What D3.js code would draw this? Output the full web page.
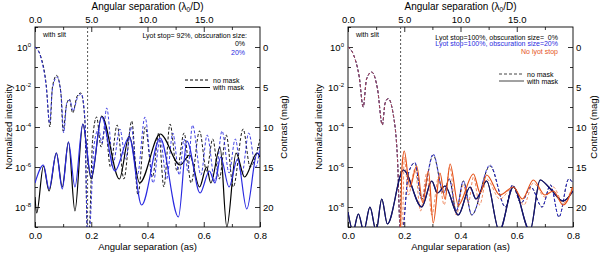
<!DOCTYPE html>
<html>
<head>
<meta charset="utf-8">
<script src="https://cdn.jsdelivr.net/npm/d3@7"></script>
<style>
body { margin: 0; background: #fff; }
svg { font-family: "Liberation Sans", Arial, sans-serif; }
</style>
</head>
<body>
<svg id="chart" width="600" height="254"></svg>
<script>
// ticks
const xTicksAs = [0.0, 0.2, 0.4, 0.6, 0.8]
const xMinorAs = [0.1, 0.3, 0.5, 0.7]
const xTicksLD = [0, 5, 10, 15]
const xMinorLD = [2.5, 7.5, 12.5, 17.5]
const yTicksExp = [0, -2, -4, -6, -8]
const yMinorExp = [1, -1, -3, -5, -7, -9]
const magTicks = [0, 5, 10, 15, 20]
const magMinor = [2.5, 7.5, 12.5, 17.5]
const slitEdge = 0.187

// series: [separation (as), log10 normalized intensity]
// left panel, Lyot stop 92%
const leftNoMask0 = [[0,0],[0.02,-0.45],[0.04,-1.9],[0.053,-4.0],[0.062,-2.0],[0.077,-1.42],[0.092,-2.3],[0.100,-4.2],[0.112,-2.9],[0.122,-2.6],[0.134,-3.3],[0.150,-2.45],[0.163,-2.3],[0.177,-3.6],[0.186,-9.2],
  [0.192,-9.2],[0.205,-4.6],[0.219,-3.5],[0.235,-5.0],[0.250,-4.0],[0.268,-6.0],[0.292,-3.9],[0.316,-6.6],[0.344,-3.7],[0.366,-7.4],[0.392,-4.0],[0.418,-6.5],[0.440,-4.3],[0.458,-7.0],[0.480,-3.85],[0.505,-6.2],[0.530,-4.3],[0.555,-6.8],[0.585,-4.2],[0.610,-6.2],[0.632,-4.6],[0.655,-6.6],[0.680,-4.4],[0.705,-7.0],[0.740,-4.1],[0.765,-6.0],[0.800,-4.6]]
const leftNoMask20 = [[0,0],[0.02,-0.5],[0.04,-2.0],[0.052,-3.8],[0.062,-2.1],[0.078,-1.5],[0.093,-2.4],[0.102,-4.3],[0.113,-2.8],[0.124,-2.65],[0.135,-3.2],[0.152,-2.5],[0.165,-2.35],[0.178,-3.7],[0.186,-9.2],
  [0.193,-9.2],[0.210,-4.9],[0.226,-4.1],[0.238,-4.8],[0.255,-3.05],[0.278,-5.8],[0.302,-4.1],[0.322,-5.6],[0.342,-4.0],[0.364,-6.4],[0.391,-3.5],[0.420,-6.8],[0.445,-4.6],[0.468,-6.6],[0.490,-4.3],[0.513,-6.4],[0.530,-4.6],[0.543,-6.2],[0.560,-3.9],[0.590,-6.4],[0.612,-4.4],[0.640,-6.7],[0.665,-4.2],[0.690,-6.3],[0.712,-4.6],[0.735,-6.4],[0.760,-4.3],[0.785,-6.0],[0.800,-5.0]]
const leftMask0 = [[0,-7.5],[0.006,-8.3],[0.030,-5.95],[0.050,-7.2],[0.076,-5.3],[0.097,-7.0],[0.119,-4.75],[0.142,-8.2],[0.170,-3.85],[0.200,-6.6],[0.237,-3.45],[0.300,-6.6],[0.335,-4.45],[0.372,-6.8],[0.445,-4.35],[0.516,-5.9],[0.550,-5.4],[0.585,-7.0],[0.610,-6.0],[0.625,-6.8],[0.658,-5.0],[0.682,-9.0],[0.715,-5.3],[0.745,-6.5],[0.790,-5.3],[0.800,-5.5]]
const leftMask20 = [[0,-6.8],[0.030,-5.9],[0.050,-7.1],[0.076,-5.3],[0.097,-7.1],[0.119,-4.75],[0.142,-7.0],[0.170,-3.85],[0.200,-6.5],[0.237,-3.5],[0.284,-6.2],[0.335,-4.5],[0.379,-7.9],[0.445,-4.55],[0.510,-8.5],[0.540,-4.7],[0.587,-7.3],[0.620,-6.2],[0.640,-6.8],[0.660,-5.5],[0.690,-7.0],[0.720,-5.6],[0.753,-8.1],[0.790,-5.3],[0.800,-5.4]]

// right panel, Lyot stop 100%
const rightNoMask0 = [[0,0],[0.02,-0.4],[0.04,-1.5],[0.054,-3.0],[0.066,-1.6],[0.084,-1.25],[0.105,-2.1],[0.122,-3.9],[0.132,-2.8],[0.143,-2.58],[0.160,-3.3],[0.176,-5.6],[0.186,-9.2],
  [0.193,-9.2],[0.215,-6.3],[0.238,-5.8],[0.262,-7.6],[0.303,-5.4],[0.340,-7.3],[0.360,-6.6],[0.385,-8.2],[0.410,-6.7],[0.440,-8.4],[0.505,-5.95],[0.560,-8.0],[0.585,-6.9],[0.615,-7.8],[0.650,-7.0],[0.690,-8.0],[0.720,-6.9],[0.750,-8.5],[0.785,-6.6],[0.800,-6.8]]
const rightNoMask20 = [[0,0],[0.02,-0.4],[0.04,-1.5],[0.054,-3.0],[0.066,-1.6],[0.084,-1.25],[0.105,-2.1],[0.122,-3.9],[0.132,-2.8],[0.143,-2.58],[0.160,-3.3],[0.176,-5.6],[0.186,-9.2],
  [0.193,-9.2],[0.215,-6.3],[0.238,-5.77],[0.262,-7.6],[0.303,-5.35],[0.340,-7.3],[0.360,-6.6],[0.385,-8.2],[0.410,-6.7],[0.440,-8.4],[0.505,-5.9],[0.560,-8.0],[0.585,-6.9],[0.615,-7.8],[0.650,-7.0],[0.690,-8.0],[0.720,-6.9],[0.750,-8.5],[0.785,-6.6],[0.800,-6.8]]
const rightNoMaskNoLyot = [[0,0],[0.02,-0.4],[0.04,-1.5],[0.054,-3.0],[0.066,-1.6],[0.084,-1.25],[0.105,-2.1],[0.122,-3.9],[0.132,-2.8],[0.143,-2.58],[0.160,-3.3],[0.176,-5.6],[0.186,-9.2],
  [0.193,-9.2],[0.200,-5.5],[0.215,-7.4],[0.238,-6.1],[0.258,-8.2],[0.280,-6.3],[0.298,-8.4],[0.322,-6.5],[0.342,-7.9],[0.362,-6.0],[0.385,-8.4],[0.410,-6.9],[0.428,-7.8],[0.446,-6.5],[0.468,-7.9],[0.493,-6.6],[0.540,-7.6],[0.588,-7.0],[0.625,-7.9],[0.659,-6.8],[0.700,-7.5],[0.730,-7.0],[0.765,-7.8],[0.800,-6.9]]
const rightMask0 = [[0,-8.25],[0.018,-9.2],[0.037,-8.35],[0.056,-9.2],[0.078,-8.0],[0.100,-9.2],[0.120,-7.6],[0.140,-8.85],[0.197,-6.15],[0.262,-8.0],[0.298,-6.7],[0.318,-7.3],[0.345,-6.95],[0.392,-8.4],[0.434,-7.0],[0.455,-7.6],[0.493,-6.7],[0.538,-9.2],[0.588,-7.0],[0.647,-9.2],[0.683,-6.65],[0.720,-7.1],[0.765,-7.7],[0.800,-7.2]]
const rightMask20 = [[0,-8.25],[0.018,-9.2],[0.037,-8.35],[0.056,-9.2],[0.078,-8.0],[0.100,-9.2],[0.120,-7.6],[0.140,-8.85],[0.197,-6.15],[0.262,-8.0],[0.298,-6.7],[0.318,-7.3],[0.345,-6.95],[0.392,-8.4],[0.434,-7.0],[0.455,-7.6],[0.493,-6.7],[0.538,-9.2],[0.588,-7.0],[0.647,-9.2],[0.683,-6.65],[0.720,-7.1],[0.765,-7.7],[0.800,-7.2]]
const rightMaskNoLyot = [[0.187,-9.2],[0.192,-6.0],[0.200,-5.2],[0.220,-7.0],[0.244,-5.95],[0.266,-7.8],[0.286,-6.2],[0.303,-8.8],[0.327,-6.3],[0.345,-7.6],[0.363,-5.85],[0.392,-7.9],[0.446,-6.35],[0.470,-7.3],[0.493,-6.4],[0.540,-7.4],[0.588,-7.0],[0.620,-7.6],[0.659,-6.65],[0.700,-7.4],[0.730,-7.2],[0.765,-7.9],[0.800,-7.0]]

const blue = '#2a2ae0'
const navy = '#15158c'
const orange = '#e5531a'

const svg = d3.select('#chart')

function drawPanel(opt) {
    const x = d3.scaleLinear().domain([0, 0.8]).range([opt.left, opt.right])
    const xTop = d3.scaleLinear().domain([0, 20]).range([opt.left, opt.right])
    const y = d3.scaleLog().domain([1e-9, 10]).range([opt.bottom, opt.top])
    const mag = d3.scaleLinear().domain([-2.5, 22.5]).range([opt.top, opt.bottom])

    const g = svg.append('g')
    const clipId = 'clip-' + opt.name
    g.append('clipPath').attr('id', clipId)
        .append('rect')
        .attr('x', opt.left).attr('y', opt.top)
        .attr('width', opt.right - opt.left).attr('height', opt.bottom - opt.top)

    // axes, ticks point inside the frame
    g.append('g').attr('transform', `translate(0,${opt.bottom})`)
        .call(d3.axisBottom(x).tickValues(xTicksAs).tickSizeInner(-5).tickSizeOuter(0).tickPadding(5).tickFormat(d3.format('.1f')))
    g.append('g').attr('transform', `translate(0,${opt.bottom})`)
        .call(d3.axisBottom(x).tickValues(xMinorAs).tickSize(-3).tickFormat(''))
    g.append('g').attr('transform', `translate(0,${opt.top})`)
        .call(d3.axisTop(xTop).tickValues(xTicksLD).tickSizeInner(-5).tickSizeOuter(0).tickPadding(4).tickFormat(d3.format('.1f')))
    g.append('g').attr('transform', `translate(0,${opt.top})`)
        .call(d3.axisTop(xTop).tickValues(xMinorLD).tickSize(-3).tickFormat(''))

    const yAxisG = g.append('g').attr('transform', `translate(${opt.left},0)`)
        .call(d3.axisLeft(y).tickValues(yTicksExp.map(e => Math.pow(10, e))).tickSizeInner(-5).tickSizeOuter(0).tickPadding(4))
    g.append('g').attr('transform', `translate(${opt.left},0)`)
        .call(d3.axisLeft(y).tickValues(yMinorExp.map(e => Math.pow(10, e))).tickSize(-3).tickFormat(''))
    yAxisG.selectAll('.tick text').each(function (d, i) {
        const t = d3.select(this).text('')
        t.append('tspan').text('10')
        t.append('tspan').attr('dy', -4).attr('font-size', 6).text(yTicksExp[i])
    })

    g.append('g').attr('transform', `translate(${opt.right},0)`)
        .call(d3.axisRight(mag).tickValues(magTicks).tickSizeInner(-5).tickSizeOuter(0).tickPadding(3))
    g.append('g').attr('transform', `translate(${opt.right},0)`)
        .call(d3.axisRight(mag).tickValues(magMinor).tickSize(-3).tickFormat(''))

    g.selectAll('.domain').remove()
    g.selectAll('.tick line').attr('stroke', '#000').attr('stroke-width', 0.8)
    g.selectAll('.tick text').attr('font-size', 9.5).attr('fill', '#000')
        .attr('font-family', '"Liberation Sans", Arial, sans-serif')

    g.append('rect')
        .attr('x', opt.left).attr('y', opt.top)
        .attr('width', opt.right - opt.left).attr('height', opt.bottom - opt.top)
        .attr('fill', 'none').attr('stroke', '#000').attr('stroke-width', 0.9)

    // axis titles
    const midX = (opt.left + opt.right) / 2
    const midY = (opt.top + opt.bottom) / 2
    const top = g.append('text').attr('x', midX).attr('y', 10).attr('text-anchor', 'middle').attr('font-size', 10)
    top.append('tspan').text('Angular separation (λ')
    top.append('tspan').attr('font-size', 6.5).attr('dy', 2).text('0')
    top.append('tspan').attr('dy', -2).text('/D)')
    g.append('text').attr('x', midX).attr('y', 250).attr('text-anchor', 'middle')
        .attr('font-size', 9.5).text('Angular separation (as)')
    g.append('text').attr('transform', `translate(${opt.left - opt.yTitleOff},${midY}) rotate(-90)`)
        .attr('text-anchor', 'middle').attr('font-size', 9.5).text('Normalized intensity')
    g.append('text').attr('transform', `translate(${opt.right + opt.magTitleOff},${midY}) rotate(-90)`)
        .attr('text-anchor', 'middle').attr('font-size', 9.5).text('Contrast (mag)')

    // slit edge
    g.append('line')
        .attr('x1', x(slitEdge)).attr('x2', x(slitEdge))
        .attr('y1', opt.top).attr('y2', opt.bottom)
        .attr('stroke', '#555').attr('stroke-width', 1).attr('stroke-dasharray', '2,2')

    const line = d3.line()
        .x(d => x(d[0]))
        .y(d => y(Math.pow(10, d[1])))
        .curve(d3.curveMonotoneX)

    const plot = g.append('g').attr('clip-path', `url(#${clipId})`)
    opt.series.forEach(s => {
        plot.append('path')
            .datum(s.data)
            .attr('d', line)
            .attr('fill', 'none')
            .attr('stroke', s.color)
            .attr('stroke-width', s.dashed ? 0.9 : 1.2)
            .attr('stroke-opacity', s.opacity || 1)
            .attr('stroke-dasharray', s.dashed ? '3,2' : null)
    })

    // notes and legend
    g.append('text').attr('x', opt.left + 8).attr('y', 37).attr('font-size', 7).text('with slit')
    opt.notes.forEach(n => {
        g.append('text').attr('x', n.x).attr('y', n.y).attr('text-anchor', 'end')
            .attr('font-size', 7).attr('fill', n.color).attr('xml:space', 'preserve').text(n.text)
    })
    opt.legend.items.forEach((it, i) => {
        const ly = opt.legend.y + i * opt.legend.step
        g.append('line')
            .attr('x1', opt.legend.x).attr('x2', opt.legend.x + 25)
            .attr('y1', ly).attr('y2', ly)
            .attr('stroke', opt.legend.color).attr('stroke-width', 1)
            .attr('stroke-dasharray', it.dashed ? '3,2' : null)
        g.append('text').attr('x', opt.legend.x + 28).attr('y', ly + 2.5)
            .attr('font-size', 7).text(it.label)
    })
}

drawPanel({
    name: 'left', left: 35, right: 260, top: 27, bottom: 227, yTitleOff: 23, magTitleOff: 27,
    series: [
        {data: leftNoMask0, color: '#000', dashed: true},
        {data: leftNoMask20, color: blue, dashed: true},
        {data: leftMask0, color: '#000'},
        {data: leftMask20, color: blue}
    ],
    notes: [
        {x: 247, y: 38, color: '#000', text: 'Lyot stop= 92%, obscuration size:'},
        {x: 245, y: 46, color: '#000', text: '0%'},
        {x: 245, y: 55, color: blue, text: '20%'}
    ],
    legend: {x: 185, y: 80, step: 7.5, color: '#000', items: [
        {label: 'no mask', dashed: true}, {label: 'with mask'}
    ]}
})

drawPanel({
    name: 'right', left: 348, right: 573, top: 27, bottom: 227, yTitleOff: 26, magTitleOff: 24,
    series: [
        {data: rightNoMask0, color: '#000', dashed: true},
        {data: rightNoMask20, color: blue, dashed: true},
        {data: rightNoMaskNoLyot, color: orange, dashed: true, opacity: 0.75},
        {data: rightMask0, color: '#000'},
        {data: rightMask20, color: navy, opacity: 0.85},
        {data: rightMaskNoLyot, color: orange}
    ],
    notes: [
        {x: 558, y: 39.5, color: '#000', text: 'Lyot stop=100%, obscuration size=  0%'},
        {x: 558, y: 46, color: blue, text: 'Lyot stop=100%, obscuration size=20%'},
        {x: 558, y: 54, color: orange, text: 'No lyot stop'}
    ],
    legend: {x: 499, y: 74, step: 7, color: '#444', items: [
        {label: 'no mask', dashed: true}, {label: 'with mask'}
    ]}
})
</script>
</body>
</html>
